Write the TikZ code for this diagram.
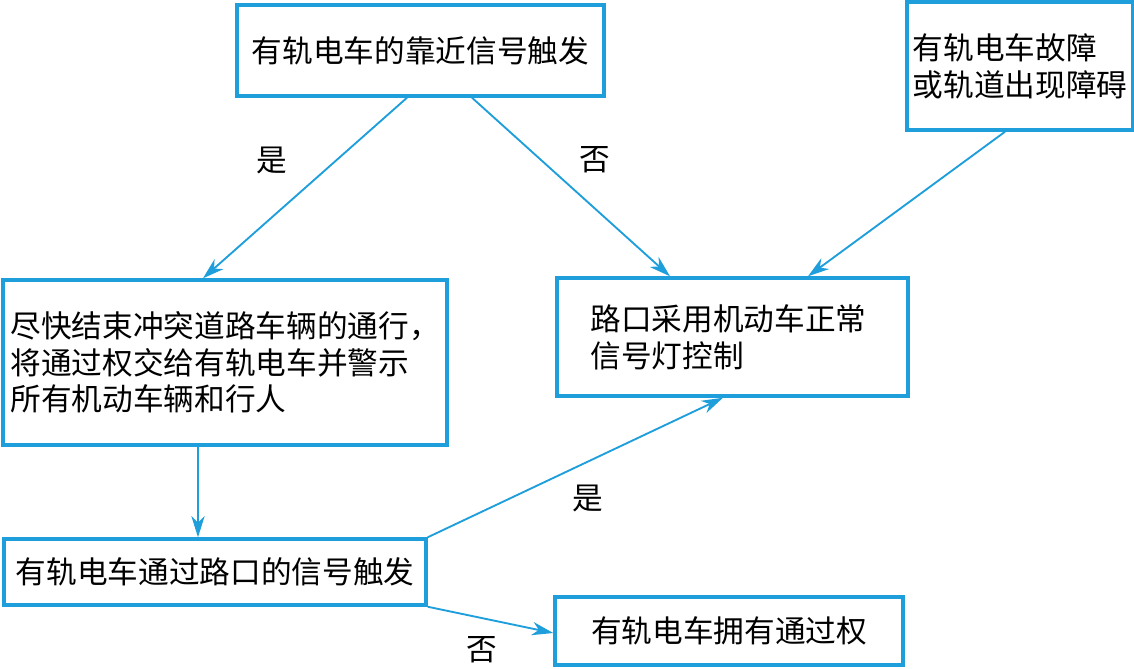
\documentclass[tikz,border=0pt]{standalone}
\usepackage{fontspec}
\setmainfont{Noto Sans CJK SC}
\usetikzlibrary{arrows.meta,calc}
\definecolor{lineblue}{RGB}{30,158,218}
\begin{document}
\begin{tikzpicture}[x=0.75pt,y=-0.75pt,
  box/.style={draw=lineblue,line width=2.6pt,rectangle,inner sep=0pt,align=left,
    font=\fontsize{23}{27.5}\selectfont},
  arr/.style={draw=lineblue,line width=1.4pt,-{Stealth[length=16pt,width=10pt,inset=5pt]}},
  lbl/.style={font=\fontsize{23}{27.5}\selectfont,inner sep=0pt}]
\useasboundingbox (0,0) rectangle (1134,668);
\node[box,minimum width=275.25pt,minimum height=68.25pt] (top) at (420.5,50.5) {有轨电车的靠近信号触发};
\node[box,minimum width=169.5pt,minimum height=96pt] (tr) at (1020,66) {有轨电车故障\\或轨道出现障碍};
\node[box,minimum width=333pt,minimum height=123.75pt] (left) at (225,362.5) {\raisebox{0pt}[\height][\depth]{}尽快结束冲突道路车辆的通行，\\将通过权交给有轨电车并警示\\所有机动车辆和行人};
\node[box,minimum width=263.25pt,minimum height=88.5pt] (rm) at (732.5,337) {\hspace*{-6pt}路口采用机动车正常\\\hspace*{-6pt}信号灯控制};
\node[box,minimum width=316.5pt,minimum height=49.5pt] (bl) at (215,572) {有轨电车通过路口的信号触发};
\node[box,minimum width=261pt,minimum height=51pt] (br) at (729,631) {有轨电车拥有通过权};
\draw[arr] ($(top.south)+(-13.5,0)$) -- ($(left.north)+(-22,0)$);
\draw[arr] ($(top.south)+(51.5,0)$) -- ($(rm.north)+(-62.5,0)$);
\draw[arr] ($(tr.south)+(-15,0)$) -- ($(rm.north)+(75.5,0)$);
\draw[arr] ($(left.south)+(-27,0)$) -- ($(bl.north)+(-17,0)$);
\draw[arr] (bl.north east) -- ($(rm.south)+(-9.5,0)$);
\draw[arr] (bl.south east) -- ($(br.west)+(0,2)$);
\node[lbl] (l1) at (272,160) {是};
\node[lbl] (l2) at (595,160) {否};
\node[lbl] (l3) at (588,498) {是};
\node[lbl] (l4) at (482,650) {否};
\end{tikzpicture}
\end{document}
